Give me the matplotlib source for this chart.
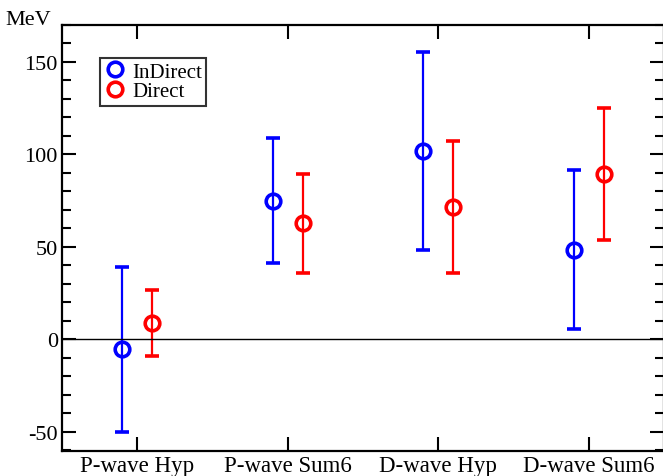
import numpy as np
import matplotlib.pyplot as plt
from matplotlib.ticker import MultipleLocator
from matplotlib.lines import Line2D

plt.rcParams['font.family'] = ['Liberation Serif', 'DejaVu Serif']
plt.rcParams['axes.unicode_minus'] = False

categories = ["P-wave Hyp", "P-wave Sum6", "D-wave Hyp", "D-wave Sum6"]
indirect_val = [-5.5, 75.0, 101.9, 48.3]
indirect_err = [44.5, 34.0, 53.6, 43.0]
direct_val = [8.6, 62.7, 71.4, 89.4]
direct_err = [17.8, 26.9, 35.6, 35.7]

fig = plt.figure(figsize=(6.63, 4.77), dpi=100)
ax = fig.add_axes([62/663, 1 - 452/477, (664 - 62)/663, (452 - 26)/477])

x = np.arange(1, len(categories) + 1)
stil = dict(fmt='o', ms=10.5, mfc='none', mew=2.6, elinewidth=1.6, capsize=5, capthick=1.3)
ax.errorbar(x - 0.1, indirect_val, yerr=indirect_err, color='#0000ff', **stil)
ax.errorbar(x + 0.1, direct_val, yerr=direct_err, color='#ff0000', **stil)

ax.axhline(0, color='black', lw=1)

ax.set_xlim(0.5, 4.5)
ax.set_ylim(-60.5, 170)
ax.set_xticks(x)
ax.set_xticklabels(categories)
ax.yaxis.set_major_locator(MultipleLocator(50))
ax.yaxis.set_minor_locator(MultipleLocator(10))

ax.tick_params(which='both', direction='in', top=True, right=True, width=1.5, labelsize=16)
ax.tick_params(which='major', length=10)
ax.tick_params(which='minor', length=6.5)
ax.tick_params(axis='y', pad=3)
ax.tick_params(axis='x', pad=3, labelsize=16.5)
for s in ax.spines.values():
    s.set_linewidth(1.6)

fig.text(5/663, 1 - 25/477, "MeV", fontsize=16)

handles = [Line2D([], [], ls='none', marker='o', ms=10.5, mfc='none', mew=2.6, color='#0000ff'),
           Line2D([], [], ls='none', marker='o', ms=10.5, mfc='none', mew=2.6, color='#ff0000')]
leg = ax.legend(handles, ['InDirect', 'Direct'], loc='upper left',
                bbox_to_anchor=((100 - 62)/602, 1 - (59 - 26)/426),
                fontsize=15, frameon=True, fancybox=False, borderpad=0.2,
                handletextpad=0.35, labelspacing=0.0, handlelength=1.0, borderaxespad=0)
leg.get_frame().set_edgecolor('black')
leg.get_frame().set_linewidth(1.5)

fig.savefig("out.png", dpi=100)
